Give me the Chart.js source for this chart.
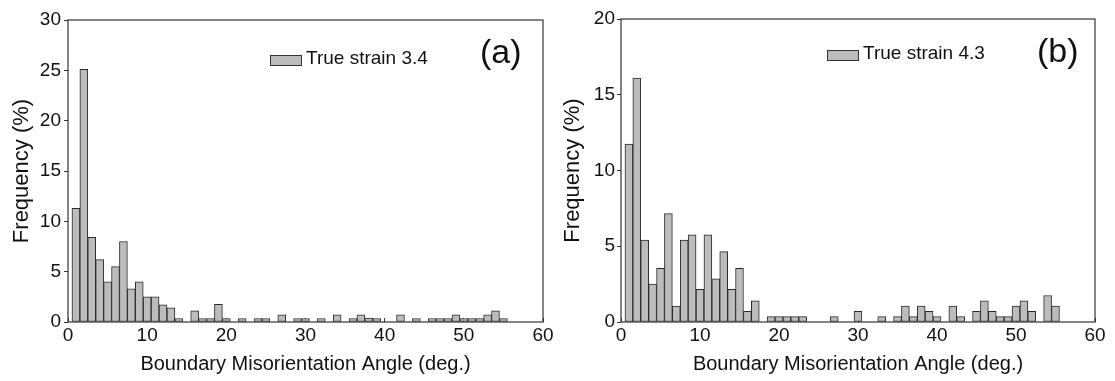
<!DOCTYPE html>
<html><head><meta charset="utf-8">
<script src="https://cdn.jsdelivr.net/npm/chart.js@4.4.1/dist/chart.umd.min.js"></script>
<style>
body{margin:0;background:#fff;font-family:Arial,"Liberation Sans",sans-serif;}
#wrap{position:relative;width:1115px;height:381px;overflow:hidden}
canvas{position:absolute;top:0}
.lg{position:absolute;font-size:19px;line-height:20px;color:#111;white-space:nowrap}
.sw{position:absolute;box-sizing:border-box;border:1px solid #333;background:#bcbcbc;width:32px;height:11px}
.tag{position:absolute;font-size:34px;line-height:34px;color:#111}
</style></head><body>
<div id="wrap">
  <canvas id="ca" width="560" height="381" style="left:0"></canvas>
  <canvas id="cb" width="558" height="381" style="left:557px"></canvas>
  <div class="sw" style="left:270px;top:55px"></div>
  <div class="lg" style="left:306px;top:48px">True strain 3.4</div>
  <div class="tag" style="left:480px;top:34px">(a)</div>
  <div class="sw" style="left:827px;top:50px"></div>
  <div class="lg" style="left:863px;top:43px">True strain 4.3</div>
  <div class="tag" style="left:1037px;top:33px">(b)</div>
</div>
<script>
// bin centres (deg.), 1..55
const angles=[1,2,3,4,5,6,7,8,9,10,11,12,13,14,15,16,17,18,19,20,21,22,23,24,25,26,27,28,29,30,
  31,32,33,34,35,36,37,38,39,40,41,42,43,44,45,46,47,48,49,50,51,52,53,54,55];
// frequency (%), true strain 3.4
const strain34=[11.3,25.1,8.4,6.2,4.0,5.5,8.0,3.3,4.0,2.5,2.5,1.7,1.4,0.35,0,1.1,0.35,0.35,1.75,0.35,
  0,0.35,0,0.35,0.35,0,0.7,0,0.35,0.35,0,0.35,0,0.7,0,0.35,0.7,0.4,0.35,0,
  0,0.7,0,0.35,0,0.35,0.35,0.35,0.7,0.35,0.35,0.35,0.7,1.1,0.35];
// frequency (%), true strain 4.3
const strain43=[11.75,16.1,5.4,2.5,3.55,7.15,1.05,5.4,5.75,2.15,5.75,2.85,4.65,2.15,3.55,0.7,1.4,0,0.35,0.35,
  0.35,0.35,0.35,0,0,0,0.35,0,0,0.7,0,0,0.35,0,0.35,1.05,0.35,1.05,0.7,0.35,
  0,1.05,0.35,0,0.7,1.4,0.7,0.35,0.35,1.05,1.4,0.7,0,1.75,1.05];
const xTicks=[0,10,20,30,40,50,60];

const FONT='Arial, "Liberation Sans", sans-serif';
const frame={id:'frame',afterDraw(c){const {ctx,chartArea:a}=c;ctx.save();ctx.strokeStyle='#333';ctx.lineWidth=1.2;
  ctx.strokeRect(a.left,a.top,a.right-a.left,a.bottom-a.top);ctx.restore();}};

function draw(id, vals, ymax, o){
  return new Chart(document.getElementById(id),{
    type:'bar',
    data:{datasets:[{data:angles.map((a,i)=>({x:a,y:vals[i]})),backgroundColor:'#bcbcbc',borderColor:'#2a2a2a',
      borderWidth:1,borderSkipped:false,barPercentage:1,categoryPercentage:1}]},
    options:{responsive:false,animation:false,
      layout:{padding:{left:0,right:o.right,top:o.top,bottom:0}},
      plugins:{legend:{display:false},tooltip:{enabled:false}},
      scales:{
        x:{type:'linear',min:0,max:60,offset:false,
          afterBuildTicks:s=>{s.ticks=xTicks.map(v=>({value:v}));},
          afterFit:s=>{s.height=59;},
          grid:{offset:false,drawOnChartArea:false,tickLength:-4,color:'#333'},border:{display:false},
          ticks:{padding:6,color:'#111',font:{family:FONT,size:19}},
          title:{display:true,text:'Boundary Misorientation Angle (deg.)',color:'#111',font:{family:FONT,size:20},padding:{top:0,bottom:5}}},
        y:{min:0,max:ymax,
          afterFit:s=>{s.width=o.yw;},
          grid:{drawOnChartArea:false,tickLength:4,color:'#333'},border:{display:false},
          ticks:{stepSize:5,padding:o.tp,color:'#111',font:{family:FONT,size:19}},
          title:{display:true,text:'Frequency (%)',color:'#111',font:{family:FONT,size:22},padding:{top:o.tt,bottom:0}}}
      }},
    plugins:[frame]
  });
}
draw('ca',strain34,30,{right:17,top:20,yw:68,tp:3,tt:9});
draw('cb',strain43,20,{right:20,top:19,yw:64,tp:2,tt:3});
</script>
</body></html>
